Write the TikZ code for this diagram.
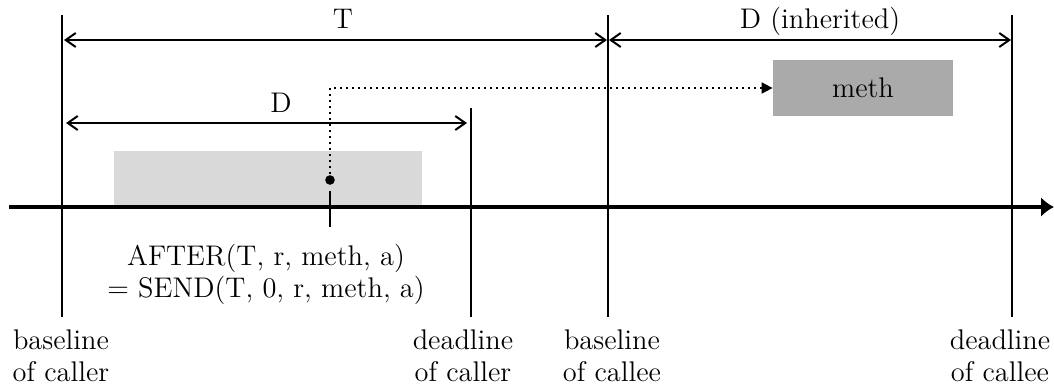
\documentclass[tikz,border=0pt]{standalone}
\usetikzlibrary{arrows.meta}
\definecolor{lightbox}{HTML}{D9D9D9}
\definecolor{darkbox}{HTML}{AAAAAA}
\begin{document}
\begin{tikzpicture}[x=0.5pt,y=-0.5pt,
  lbl/.style={inner sep=0pt,anchor=base,font=\fontsize{14.2}{15}\selectfont},
  twoline/.style={inner sep=0pt,anchor=base,align=center,font=\fontsize{14.2}{16}\selectfont},
  vline/.style={line width=0.65pt},
  dimarrow/.style={line width=1pt,{Straight Barb[length=5pt,width=7pt]}-{Straight Barb[length=5pt,width=7pt]}},
  timeline/.style={line width=2pt,-{Latex[length=6.5pt,width=10pt]}},
  callbox/.style={fill=lightbox,draw=none},
  methbox/.style={fill=darkbox,draw=none,minimum width=90pt,minimum height=28pt,inner sep=0pt,font=\fontsize{14.2}{15}\selectfont},
  callarrow/.style={line width=1pt,dotted,-{Triangle[length=5.5pt,width=5.5pt]}}
]
\useasboundingbox (0,0) rectangle (1054,387);

% vertical lines
\coordinate (bcT) at (62,15);   \coordinate (bcB) at (62,317);
\coordinate (dcT) at (471,108); \coordinate (dcB) at (471,317);
\coordinate (beT) at (608,15);  \coordinate (beB) at (608,317);
\coordinate (deT) at (1012,15); \coordinate (deB) at (1012,317);

% call window box
\fill[callbox] (114,151) rectangle (422,207);

% timeline
\coordinate (tl0) at (9,207);
\coordinate (tl1) at (1054,207);
\draw[timeline] (tl0) -- (tl1);

\draw[vline] (bcT) -- (bcB);
\draw[vline] (dcT) -- (dcB);
\draw[vline] (beT) -- (beB);
\draw[vline] (deT) -- (deB);

% dimension arrows
\coordinate (tA) at (64,40);  \coordinate (tB) at (607,40);
\coordinate (iA) at (609,40); \coordinate (iB) at (1011,40);
\coordinate (dA) at (66,123); \coordinate (dB) at (467,123);
\draw[dimarrow] (tA) -- (tB);
\draw[dimarrow] (iA) -- (iB);
\draw[dimarrow] (dA) -- (dB);
\node[lbl] (Tlbl) at (343,28) {T};
\node[lbl] (Ilbl) at (820,28) {D (inherited)};
\node[lbl] (Dlbl) at (281,112) {D};

% meth box
\node[methbox] (meth) at (863,88) {meth};

% send point
\coordinate (send) at (330,180);
\coordinate (tickT) at (330,191);
\coordinate (tickB) at (330,227);
\draw[vline] (tickT) -- (tickB);
\draw[callarrow] (send) |- (meth.west);
\fill (send) circle (2.4pt);

% labels (anchor base = baseline of last line)
\node[twoline] (after) at (266,297) {AFTER(T, r, meth, a)\\= SEND(T, 0, r, meth, a)};
\node[twoline] (lbc) at (61,381) {baseline\\of caller};
\node[twoline] (ldc) at (463,381) {deadline\\of caller};
\node[twoline] (lbe) at (612,381) {baseline\\of callee};
\node[twoline] (lde) at (1000,381) {deadline\\of callee};
\end{tikzpicture}
\end{document}
